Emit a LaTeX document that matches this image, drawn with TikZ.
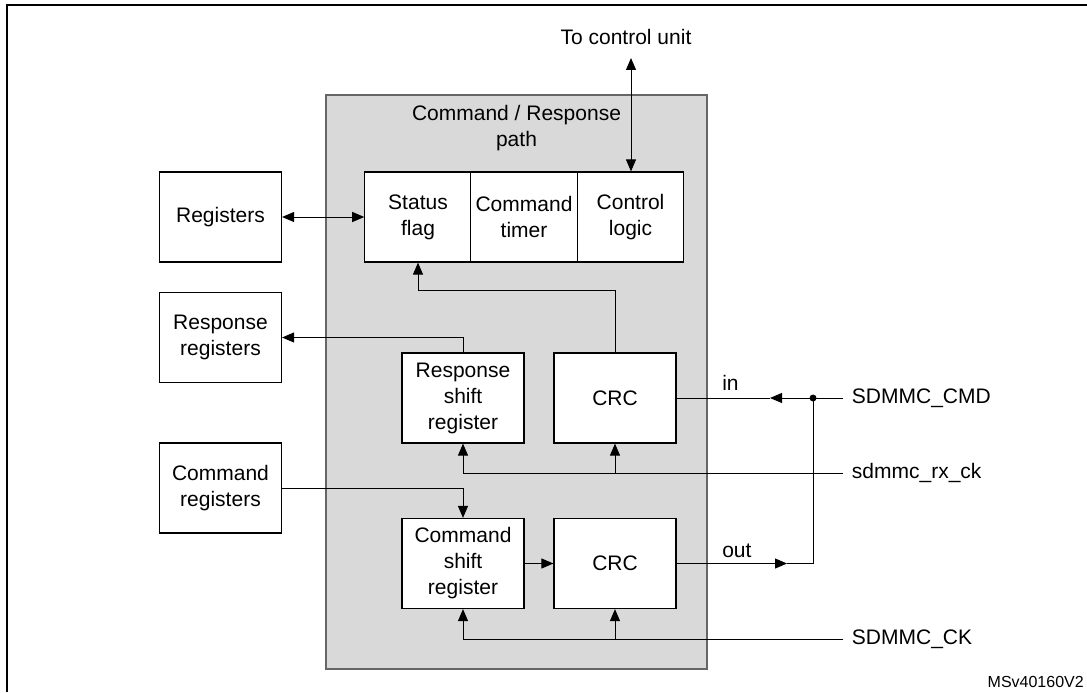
\documentclass[tikz,border=0pt]{standalone}
\usepackage{fontspec}
\setmainfont{Liberation Sans}
\usetikzlibrary{arrows.meta}
\begin{document}
\begin{tikzpicture}[x=0.75pt,y=-0.75pt,
  lbl/.style={font=\fontsize{15.75}{19.5}\selectfont},
  box/.style={draw=black,line width=0.9pt,fill=white,align=center,inner sep=0pt,
    minimum width=91.5pt,minimum height=67.5pt,lbl},
  cell/.style={box,minimum width=79.75pt},
  wire/.style={line width=0.75pt},
  arr/.style={wire,-{Triangle[length=9pt,width=7.5pt]}},
  biarr/.style={wire,{Triangle[length=9pt,width=7.5pt]}-{Triangle[length=9pt,width=7.5pt]}},
  sig/.style={lbl,anchor=west,inner xsep=6.5pt,inner ysep=0pt}]
\useasboundingbox (0,0) rectangle (1087,692);
\fill[white] (0,0) rectangle (1087,692);
% frame
\draw[line width=1.6pt] (7,692) -- (7,5) -- (1087,5);
% gray path block
\node[draw=black!60,fill=black!15,line width=0.9pt,inner sep=0pt,
  minimum width=285.75pt,minimum height=430.5pt] (path) at (516.5,382) {};
\node[lbl,align=center,inner sep=0pt] (pathlbl) at (516.5,128.5) {Command / Response\\path};
% left boxes
\node[box] (regs) at (220.5,217) {Registers};
\node[box] (respregs) at (220.5,337.5) {Response\\registers};
\node[box] (cmdregs) at (220.5,488) {Command\\registers};
% status row
\node[cell] (status) at (418,217) {Status\\flag};
\node[cell] (timer) at (524,217) {Command\\timer};
\node[cell] (ctrl) at (630.5,217) {Control\\logic};
% inner blocks
\node[box] (rsh) at (463,398) {Response\\shift\\register};
\node[box] (crc1) at (615,398) {CRC};
\node[box] (csh) at (463,563.5) {Command\\shift\\register};
\node[box] (crc2) at (615,563.5) {CRC};
% top
\node[lbl,inner sep=0pt] (tcu) at (626,37) {To control unit};
\coordinate (tcuend) at (631,58);
\draw[biarr] (tcuend) -- (ctrl.north -| tcuend);
\draw[biarr] (regs.east) -- (status.west);
\draw[arr] (crc1.north) -- ++(0,-62) -| (status.south);
\draw[arr] (rsh.north) |- (respregs.east);
\draw[arr] (cmdregs.east) -| (csh.north);
\draw[arr] (csh.east) -- (crc2.west);
% signals
\node[sig] (cmd) at (843,398) {SDMMC\_CMD};
\node[sig] (rxck) at (843,473) {sdmmc\_rx\_ck};
\node[sig] (ck) at (843,639) {SDMMC\_CK};
\coordinate (jn) at (813,398);
\coordinate (inarr) at (770,398);
\coordinate (outarr) at (787,563.5);
\draw[arr] (cmd.west) -- (inarr);
\draw[wire] (inarr) -- (crc1.east);
\draw[arr] (crc2.east) -- (outarr);
\draw[wire] (outarr) -| (jn);
\fill (jn) circle (2.6pt);
\node[lbl,anchor=west,inner sep=0pt] (inlbl) at (722,383) {in};
\node[lbl,anchor=west,inner sep=0pt] (outlbl) at (722,551) {out};
\draw[arr] (rxck.west) -| (rsh.south);
\draw[arr] (crc1.south |- rxck.west) -- (crc1.south);
\draw[arr] (ck.west) -| (csh.south);
\draw[arr] (crc2.south |- ck.west) -- (crc2.south);
% id
\node[anchor=east,inner sep=0pt,font=\fontsize{12}{14}\selectfont] (msv) at (1084,682) {MSv40160V2};
\end{tikzpicture}
\end{document}
